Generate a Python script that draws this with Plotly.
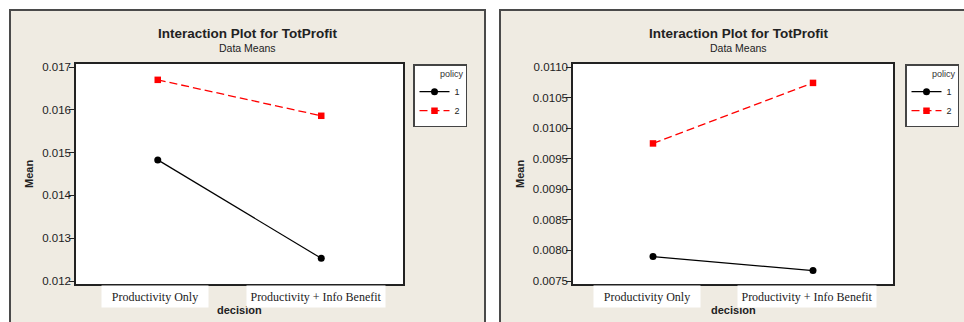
import plotly.graph_objects as go

# Interaction of decision and policy on mean TotProfit, two data sets
decisions = ["Productivity Only", "Productivity + Info Benefit"]
policies = ["1", "2"]

left_policy1 = [0.01483, 0.01253]
left_policy2 = [0.01670, 0.01586]
right_policy1 = [0.00790, 0.00767]
right_policy2 = [0.00975, 0.01074]

left_yticks = [0.012, 0.013, 0.014, 0.015, 0.016, 0.017]
right_yticks = [0.0075, 0.0080, 0.0085, 0.0090, 0.0095, 0.0100, 0.0105, 0.0110]

W, H = 964, 322
BEIGE = "#EFEBE2"
DARK = "#222222"
SANS = "Liberation Sans, Arial, sans-serif"
SERIF = "Liberation Serif, Times New Roman, serif"


def px_x(p):
    return p / W


def px_y(p):
    return 1 - p / H


fig = go.Figure()

styles = {
    "1": dict(mode="lines+markers", line=dict(color="black", width=1.2),
              marker=dict(symbol="circle", size=7, color="black")),
    "2": dict(mode="lines+markers", line=dict(color="#FF0000", width=1.3, dash="8px,4px"),
              marker=dict(symbol="square", size=6.5, color="#FF0000")),
}

for pol, ys in zip(policies, [left_policy1, left_policy2]):
    fig.add_trace(go.Scatter(x=decisions, y=ys, name=pol, xaxis="x", yaxis="y",
                             legend="legend", **styles[pol]))
for pol, ys in zip(policies, [right_policy1, right_policy2]):
    fig.add_trace(go.Scatter(x=decisions, y=ys, name=pol, xaxis="x2", yaxis="y2",
                             legend="legend2", **styles[pol]))

ydom = [px_y(284), px_y(64)]
axis_common = dict(showline=True, mirror=True, linecolor=DARK, linewidth=1.5,
                   ticks="outside", tickcolor=DARK, showgrid=False, zeroline=False,
                   tickfont=dict(family=SANS, size=11.5, color=DARK))

fig.update_layout(
    xaxis=dict(domain=[px_x(76), px_x(403)], type="category", range=[-0.5, 1.5],
               showticklabels=False, ticklen=4, anchor="y", **axis_common),
    yaxis=dict(domain=ydom, range=[0.01193, 0.01707], tickvals=left_yticks,
               tickformat=".3f", ticklen=5, ticklabelstandoff=-4, anchor="x", **axis_common),
    xaxis2=dict(domain=[px_x(573), px_x(893)], type="category", range=[-0.5, 1.5],
                showticklabels=False, ticklen=4, anchor="y2", **axis_common),
    yaxis2=dict(domain=ydom, range=[0.007451, 0.011049], tickvals=right_yticks,
                tickformat=".4f", ticklen=5, ticklabelstandoff=-4, anchor="x2", **axis_common),
)

legend_common = dict(bgcolor="white", bordercolor="#444444", borderwidth=1.5,
                     font=dict(family=SANS, size=9, color=DARK),
                     title=dict(text="policy", side="top right",
                                font=dict(family=SANS, size=9, color="#333333")),
                     xanchor="left", yanchor="top", itemwidth=30,
                     tracegroupgap=0)
fig.update_layout(
    legend=dict(x=px_x(413), y=px_y(64), **legend_common),
    legend2=dict(x=px_x(905), y=px_y(64), **legend_common),
)

# Panel backgrounds with dark frames
shapes = []
for x0, x1 in [(10, 485), (500, 1000)]:
    shapes.append(dict(type="rect", xref="paper", yref="paper",
                       x0=px_x(x0), x1=px_x(x1), y0=-0.1, y1=px_y(10),
                       fillcolor=BEIGE, line=dict(color="#4A4A4A", width=2),
                       layer="below"))
# White plotting areas
for xr, yr in [("x domain", "y domain"), ("x2 domain", "y2 domain")]:
    shapes.append(dict(type="rect", xref=xr, yref=yr, x0=0, x1=1, y0=0, y1=1,
                       fillcolor="white", line=dict(width=0), layer="below"))
fig.update_layout(shapes=shapes)

annotations = []
panels = [
    dict(cx=247.5, plot_cx=239.5, mean_x=29, xref="x", shifts=[-3, -5]),
    dict(cx=738.5, plot_cx=733, mean_x=520, xref="x2", shifts=[-6, -6]),
]
centered = dict(xanchor="center", yanchor="middle", showarrow=False)
for p in panels:
    annotations.append(dict(text="<b>Interaction Plot for TotProfit</b>", xref="paper", yref="paper",
                            x=px_x(p["cx"]), y=px_y(33),
                            font=dict(family=SANS, size=13.5, color=DARK), **centered))
    annotations.append(dict(text="Data Means", xref="paper", yref="paper",
                            x=px_x(p["cx"]), y=px_y(48),
                            font=dict(family=SANS, size=10.5, color=DARK), **centered))
    annotations.append(dict(text="<b>Mean</b>", xref="paper", yref="paper",
                            x=px_x(p["mean_x"]), y=px_y(174), textangle=-90,
                            font=dict(family=SANS, size=11, color=DARK), **centered))
    annotations.append(dict(text="<b>decision</b>", xref="paper", yref="paper",
                            x=px_x(p["plot_cx"]), y=px_y(310),
                            font=dict(family=SANS, size=11, color=DARK), **centered))
    for cat, w, sh in zip(decisions, [104, 136], p["shifts"]):
        annotations.append(dict(text=cat, xref=p["xref"], yref="paper", x=cat,
                                y=px_y(296.5), xshift=sh,
                                bgcolor="white", width=w, height=19,
                                font=dict(family=SERIF, size=12, color=DARK), **centered))
fig.update_layout(annotations=annotations)

fig.update_layout(
    width=W, height=H,
    margin=dict(l=0, r=0, t=0, b=0, pad=0, autoexpand=False),
    paper_bgcolor="white", plot_bgcolor="white",
    showlegend=True,
)

fig.write_html("out.html")
